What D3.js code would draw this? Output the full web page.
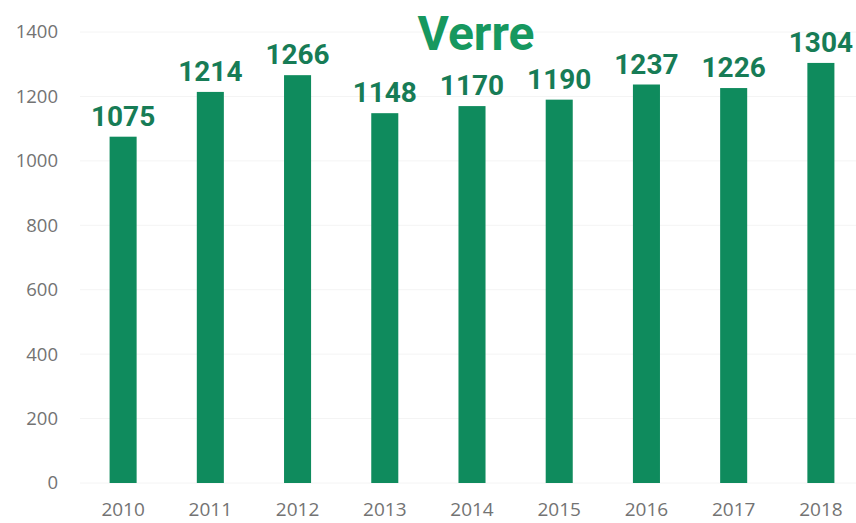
<!DOCTYPE html>
<html>
<head>
<meta charset="utf-8">
<script src="https://cdn.jsdelivr.net/npm/d3@7"></script>
<style>
  html, body { margin: 0; padding: 0; background: #fff; }
  svg { display: block; }
</style>
</head>
<body>
<svg id="chart" width="856" height="523"></svg>
<script>
const years = ["2010", "2011", "2012", "2013", "2014", "2015", "2016", "2017", "2018"]
const tonnes = [1075, 1214, 1266, 1148, 1170, 1190, 1237, 1226, 1304]
const yTicks = [0, 200, 400, 600, 800, 1000, 1200, 1400]
const title = "Verre"

const barColor = "#0f8b5d"
const labelColor = "#177c56"

const svg = d3.select("#chart")

const x = d3.scaleBand()
  .domain(years)
  .range([79.5, 864.5])
  .paddingInner(0.69)
  .paddingOuter(0.345)

const y = d3.scaleLinear()
  .domain([0, 1400])
  .range([483, 32])

// faint grid
svg.append("g")
  .selectAll("line")
  .data(yTicks)
  .enter().append("line")
  .attr("x1", 80).attr("x2", 856)
  .attr("y1", d => y(d)).attr("y2", d => y(d))
  .attr("stroke", "#f4f4f4")
  .attr("stroke-width", 1)

// y axis labels
const yAxis = svg.append("g")
  .attr("transform", "translate(58,0)")
  .call(d3.axisLeft(y).tickValues(yTicks).tickFormat(d3.format("d")).tickSize(0).tickPadding(0))
yAxis.select(".domain").remove()
yAxis.selectAll("text")
  .attr("fill", "#737373")
  .style("font-family", "'Open Sans', sans-serif")
  .style("font-size", "18.5px")

// x axis labels
const xAxis = svg.append("g")
  .attr("transform", "translate(0,502)")
  .call(d3.axisBottom(x).tickSize(0).tickPadding(0))
xAxis.select(".domain").remove()
xAxis.selectAll("text")
  .attr("fill", "#737373")
  .style("font-family", "'Open Sans', sans-serif")
  .style("font-size", "19px")

// bars
svg.append("g")
  .selectAll("rect")
  .data(tonnes)
  .enter().append("rect")
  .attr("x", (d, i) => x(years[i]))
  .attr("y", d => y(d))
  .attr("width", x.bandwidth())
  .attr("height", d => y(0) - y(d))
  .attr("fill", barColor)

// value labels
svg.append("g")
  .selectAll("text")
  .data(tonnes)
  .enter().append("text")
  .attr("x", (d, i) => x(years[i]) + x.bandwidth() / 2)
  .attr("y", d => y(d) - 11)
  .attr("text-anchor", "middle")
  .attr("fill", labelColor)
  .style("font-family", "Roboto, sans-serif")
  .style("font-weight", "bold")
  .style("font-size", "28px")
  .text(d => d)

// title
svg.append("text")
  .attr("x", 476)
  .attr("y", 50)
  .attr("text-anchor", "middle")
  .attr("fill", "#16985f")
  .style("font-family", "Roboto, sans-serif")
  .style("font-weight", "bold")
  .style("font-size", "48px")
  .text(title)
</script>
</body>
</html>
